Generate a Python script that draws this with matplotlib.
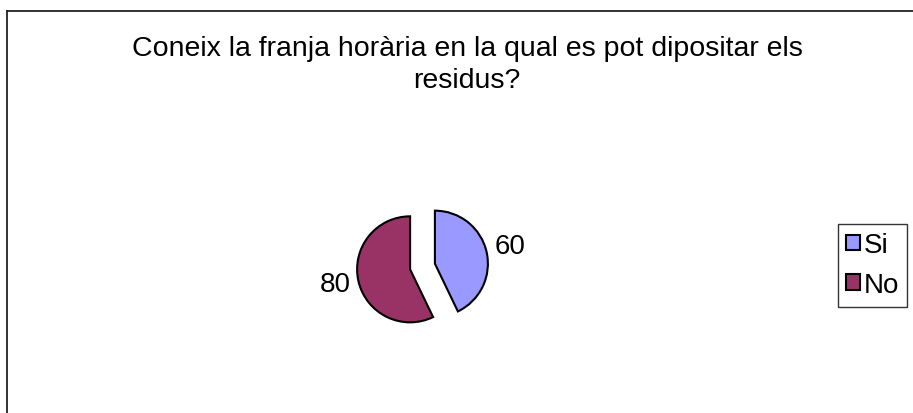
import matplotlib
matplotlib.use("Agg")
import matplotlib.pyplot as plt
from matplotlib.lines import Line2D

plt.rcParams['font.family'] = ['Liberation Sans', 'DejaVu Sans']

title = "Coneix la franja horària en la qual es pot dipositar els\nresidus?"
categories = ["Si", "No"]
values = [60, 80]
colors = ["#9999FF", "#993366"]

W, H = 913, 414
fig = plt.figure(figsize=(W / 100, H / 100), dpi=100)
fig.patch.set_facecolor("white")

# outer chart frame (left and top edges visible)
fig.add_artist(Line2D([7 / W, 7 / W], [0, 1 - 12 / H], color="#222222", lw=1.3,
                      transform=fig.transFigure))
fig.add_artist(Line2D([7 / W, 1], [1 - 12 / H, 1 - 12 / H], color="#222222", lw=1.3,
                      transform=fig.transFigure))

# title
fig.text(467 / W, 1 - 88 / H, title, ha="center", va="baseline",
         fontsize=20.5, linespacing=1.32, color="black")

# pie
R = 53.0
cx, cy = 422.5, 267.5
ax = fig.add_axes([0, 0, 1, 1])
wedges, texts = ax.pie(values, labels=[str(v) for v in values], colors=colors,
                       startangle=90, counterclock=False, explode=[0.24, 0.24],
                       labeldistance=1.15, radius=1.0,
                       wedgeprops=dict(edgecolor="black", linewidth=1.5),
                       textprops=dict(fontsize=20, color="black"))
for t in texts:
    x, y = t.get_position()
    t.set_position((x, y + (0.07 if y > 0 else -0.03)))
ax.set_xlim(-cx / R, (W - cx) / R)
ax.set_ylim(-(H - cy) / R, cy / R)
ax.set_aspect("auto")
ax.axis("off")

leg = fig.legend(wedges, categories, loc="upper left",
                 bbox_to_anchor=(838 / W, 1 - 225 / H),
                 fontsize=20, frameon=True, fancybox=False, shadow=False,
                 handlelength=0.5, handleheight=0.5, handletextpad=0.12,
                 labelspacing=0.5, borderpad=0.3, borderaxespad=0.0)
leg.get_frame().set_edgecolor("black")
leg.get_frame().set_linewidth(1.0)
for h in leg.legend_handles:
    h.set_edgecolor("black")
    h.set_linewidth(1.5)

fig.savefig("out.png", dpi=100, facecolor="white")
